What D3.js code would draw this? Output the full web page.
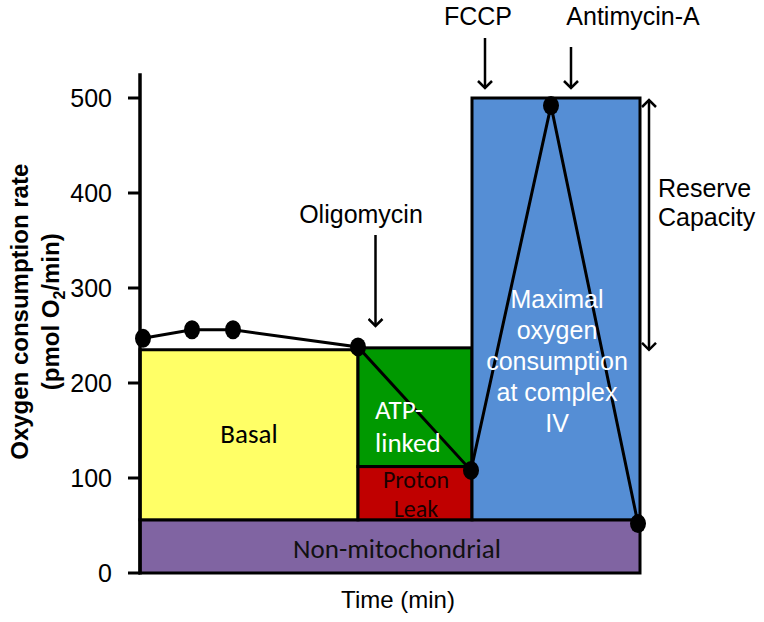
<!DOCTYPE html>
<html><head><meta charset="utf-8">
<script src="https://cdn.jsdelivr.net/npm/d3@7"></script>
<style>body{margin:0;background:#fff}svg{display:block}</style>
</head><body>
<script>
// ---- data ----
const yTicks = [0, 100, 200, 300, 400, 500];
const yAxisTop = 526;
const pointTimes = [0.6, 10.4, 18.6, 43.6, 66.2, 82.2, 99.6];
const pointRates = [247, 256, 256, 238, 108, 492, 52];
const blockNames  = ["Non-mitochondrial", "Basal", "ATP-linked", "Proton Leak", "Maximal"];
const blockX0     = [0, 0, 43.6, 43.6, 66.4];
const blockX1     = [100, 43.6, 66.4, 66.4, 100];
const blockY0     = [0, 56, 112, 56, 56];
const blockY1     = [56, 235, 237, 112, 500];
const blockColors = ["#8064A2", "#FFFF66", "#009900", "#C00000", "#558ED5"];
const injNames = ["Oligomycin", "FCCP", "Antimycin-A"];
const injTimes = [47.1, 69, 86.2];

const W = 764, H = 622;
const svg = d3.select("body").append("svg").attr("width", W).attr("height", H);
const x = d3.scaleLinear().domain([0, 100]).range([140, 640]);
const y = d3.scaleLinear().domain([0, 500]).range([573, 98]);

const defs = svg.append("defs");
function mk(id, orient) {
  defs.append("marker").attr("id", id).attr("viewBox", "-8 -8 16 16")
    .attr("refX", 0).attr("refY", 0).attr("markerWidth", 16).attr("markerHeight", 16)
    .attr("markerUnits", "userSpaceOnUse").attr("orient", orient)
    .append("path").attr("d", "M-7,-7 L0,0 L-7,7").attr("fill", "none")
    .attr("stroke", "#000").attr("stroke-width", 2.5);
}
mk("arr", "auto");
mk("arrS", "auto-start-reverse");

const arial = "'Liberation Sans', Arial, sans-serif";
const calib = "Carlito, Lato, sans-serif";

const blocks = blockNames.map((n, i) => ({n, x0: blockX0[i], x1: blockX1[i], y0: blockY0[i], y1: blockY1[i], c: blockColors[i]}));
svg.append("g").selectAll("rect").data(blocks).join("rect")
  .attr("x", d => x(d.x0)).attr("width", d => x(d.x1) - x(d.x0))
  .attr("y", d => y(d.y1)).attr("height", d => y(d.y0) - y(d.y1))
  .attr("fill", d => d.c).attr("stroke", "#000").attr("stroke-width", 3);

const ax = svg.append("g").attr("transform", `translate(${x(0)},0)`);
ax.append("line").attr("y1", y(yAxisTop)).attr("y2", y(0) + 1.5).attr("stroke", "#000").attr("stroke-width", 3.5);
const tk = ax.selectAll("g.t").data(yTicks).join("g").attr("class", "t")
  .attr("transform", d => `translate(0,${y(d)})`);
tk.append("line").attr("x1", -12).attr("x2", 0).attr("stroke", "#000").attr("stroke-width", 3);
tk.append("text").attr("x", -28).attr("dy", "0.36em").attr("text-anchor", "end")
  .attr("font-family", arial).attr("font-size", 25).text(d => d);

const yl = svg.append("text").attr("transform", `translate(0,${y(275)}) rotate(-90)`)
  .attr("text-anchor", "middle").attr("font-family", arial).attr("font-weight", "bold").attr("font-size", 24);
yl.append("tspan").attr("x", 0).attr("y", 28).text("Oxygen consumption rate");
const t2 = yl.append("tspan").attr("x", 0).attr("y", 59);
t2.append("tspan").text("(pmol O");
t2.append("tspan").attr("font-size", 16).attr("dy", 6).text("2");
t2.append("tspan").attr("dy", -6).text("/min)");

svg.append("text").attr("x", x(51.6)).attr("y", 608).attr("text-anchor", "middle")
  .attr("font-family", arial).attr("font-size", 24).text("Time (min)");

const pts = pointTimes.map((t, i) => [t, pointRates[i]]);
svg.append("path").attr("d", d3.line().x(d => x(d[0])).y(d => y(d[1]))(pts))
  .attr("fill", "none").attr("stroke", "#000").attr("stroke-width", 3);
svg.append("g").selectAll("ellipse").data(pts).join("ellipse")
  .attr("cx", d => x(d[0])).attr("cy", d => y(d[1])).attr("rx", 8).attr("ry", 9.5).attr("fill", "#000");

const lab = svg.append("g");
lab.append("text").attr("x", x(21.8)).attr("y", 443).attr("text-anchor", "middle")
  .attr("font-family", calib).attr("font-size", 27).text("Basal");
const atp = lab.append("text").attr("font-family", calib).attr("font-size", 27).attr("fill", "#fff");
atp.append("tspan").attr("x", 375).attr("y", 419).text("ATP-");
atp.append("tspan").attr("x", 375).attr("y", 452).text("linked");
const pl = lab.append("text").attr("font-family", calib).attr("font-size", 24).attr("fill", "#1a0000").attr("text-anchor", "middle");
pl.append("tspan").attr("x", x(55.2)).attr("y", 488).text("Proton");
pl.append("tspan").attr("x", x(55.2)).attr("y", 517).text("Leak");
lab.append("text").attr("x", x(51.4)).attr("y", 558).attr("text-anchor", "middle")
  .attr("font-family", calib).attr("font-size", 27).attr("fill", "#111").text("Non-mitochondrial");
const mx = lab.append("text").attr("font-family", arial).attr("font-size", 25).attr("fill", "#fff").attr("text-anchor", "middle");
["Maximal", "oxygen", "consumption", "at complex", "IV"].forEach((s, i) =>
  mx.append("tspan").attr("x", x(83.4)).attr("y", 308 + i * 31).text(s));

const injTextX = [361, 478, 633];
const injTextY = [223, 25, 25];
const injArrowTop = [235, 38, 47];
const injArrowBot = [326, 88, 88];
injNames.forEach((n, i) => {
  svg.append("text").attr("x", injTextX[i]).attr("y", injTextY[i]).attr("text-anchor", "middle")
    .attr("font-family", arial).attr("font-size", 25).text(n);
  svg.append("line").attr("x1", x(injTimes[i])).attr("x2", x(injTimes[i]))
    .attr("y1", injArrowTop[i]).attr("y2", injArrowBot[i])
    .attr("stroke", "#000").attr("stroke-width", 2.5).attr("marker-end", "url(#arr)");
});

svg.append("line").attr("x1", x(101.8)).attr("x2", x(101.8)).attr("y1", y(500) + 2).attr("y2", y(237) + 2)
  .attr("stroke", "#000").attr("stroke-width", 2.5)
  .attr("marker-start", "url(#arrS)").attr("marker-end", "url(#arr)");
const rc = svg.append("text").attr("font-family", arial).attr("font-size", 25);
rc.append("tspan").attr("x", 658).attr("y", 197).text("Reserve");
rc.append("tspan").attr("x", 658).attr("y", 226).text("Capacity");
</script>
</body></html>
